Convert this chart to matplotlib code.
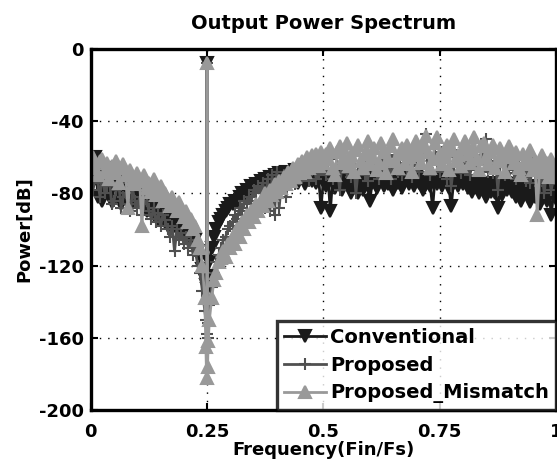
import numpy as np
import matplotlib
matplotlib.use("Agg")
import matplotlib.pyplot as plt

# normalised frequency grid (Fin/Fs), step 0.005, plus extra bins right next to the tone
freq = np.round(np.arange(201) * 0.005, 3)
notch_freq = [0.2475, 0.249, 0.251, 0.2525]

conventional = [
    -76, -64, -60, -82, -70, -84, -66, -79, -72, -85, -74, -68, -80, -86, -76, -71, -82, -88, -78, -74, -84,
    -80, -86, -76, -90, -84, -88, -92, -82, -94, -90, -86, -96, -98, -92, -100, -96, -94, -102, -97, -104,
    -100, -104, -102, -108, -106, -112, -116, -122, -128,
    -8,
    -118, -110, -104, -100, -96, -94, -92, -90, -88, -86,
    -86, -84, -85, -82, -80, -81, -78, -79, -76, -77, -75, -76, -73, -75, -72, -74, -71, -73, -70, -72,
    -69, -72, -70, -68, -73, -69, -71, -67, -74, -70, -68, -75, -71, -69, -73, -70, -74, -72, -88, -73,
    -76, -71, -90, -72, -77, -70, -74, -78, -71, -75, -73, -80, -72, -76, -80, -74, -78, -72, -76, -84,
    -74, -70, -77, -73, -71, -76, -69, -75, -72, -78, -70, -74, -71, -77, -73, -70, -75, -72, -76, -71,
    -74, -72, -78, -75, -73, -76, -88, -72, -75, -71, -76, -73, -70, -77, -87, -74, -72, -76, -73, -75,
    -71, -77, -74, -79, -76, -73, -80, -75, -78, -82, -76, -79, -74, -80, -88, -77, -81, -74, -78, -76,
    -79, -75, -82, -77, -84, -76, -80, -78, -85, -76, -82, -79, -86, -77, -81, -84, -78, -92, -80, -83,
]
proposed = [
    -70, -78, -66, -74, -82, -68, -80, -76, -72, -86, -84, -78, -74, -88, -82, -80, -86, -90, -78, -84, -88,
    -82, -92, -86, -84, -90, -94, -88, -96, -91, -98, -92, -95, -100, -104, -98, -112, -100, -106, -102, -108,
    -104, -110, -106, -114, -112, -120, -124, -134, -145,
    -8,
    -142, -132, -124, -118, -114, -110, -106, -104, -100, -98,
    -96, -92, -94, -88, -90, -84, -86, -82, -84, -78, -80, -76, -79, -74, -88, -72, -90, -70, -92, -68,
    -88, -74, -70, -82, -68, -72, -66, -75, -70, -64, -71, -68, -62, -73, -67, -65, -72, -69, -63, -66,
    -70, -64, -61, -72, -68, -65, -78, -63, -60, -69, -66, -71, -62, -80, -67, -64, -59, -70, -73, -62,
    -66, -61, -69, -72, -58, -64, -67, -60, -72, -65, -59, -68, -63, -70, -57, -66, -62, -71, -60, -65,
    -68, -62, -58, -47, -66, -70, -61, -59, -64, -68, -57, -63, -72, -60, -76, -65, -59, -62, -69, -64,
    -58, -66, -70, -61, -59, -67, -63, -57, -64, -50, -68, -62, -69, -60, -78, -65, -61, -70, -63, -67,
    -62, -69, -72, -64, -66, -61, -73, -68, -74, -63, -70, -65, -76, -69, -80, -66, -71, -78, -72, -74,
]
mismatch = [
    -64, -60, -66, -70, -62, -61, -68, -63, -72, -65, -69, -62, -74, -66, -64, -70, -88, -67, -72, -75, -69,
    -73, -98, -70, -77, -74, -79, -72, -81, -78, -76, -84, -80, -83, -87, -82, -86, -90, -85, -88, -93,
    -90, -96, -94, -100, -98, -106, -110, -120, -138,
    -8,
    -150, -138, -128, -124, -118, -116, -112, -115, -108, -110,
    -104, -108, -100, -104, -96, -100, -92, -96, -90, -93, -86, -90, -84, -87, -80, -84, -78, -81, -75, -79,
    -73, -77, -71, -75, -68, -73, -66, -71, -64, -69, -62, -68, -60, -66, -59, -64, -58, -65, -57, -63,
    -58, -61, -55, -66, -70, -57, -54, -63, -60, -52, -65, -59, -68, -56, -53, -62, -66, -58, -51, -64,
    -60, -55, -67, -63, -52, -57, -69, -61, -54, -50, -62, -66, -58, -55, -64, -53, -60, -68, -56, -51,
    -59, -63, -54, -48, -57, -66, -61, -52, -49, -58, -64, -60, -53, -67, -56, -50, -62, -59, -65, -55,
    -51, -58, -63, -56, -49, -61, -67, -54, -52, -60, -64, -57, -53, -66, -62, -55, -59, -68, -58, -54,
    -60, -63, -57, -66, -70, -58, -61, -64, -56, -67, -62, -92, -65, -59, -68, -63, -71, -61, -66, -70,
]
conv_notch = [-131, -133, -130, -126]
prop_notch = [-150, -158, -160, -152]
mism_notch = [-165, -182, -176, -162]


def with_notch(values, notch):
    f = np.concatenate([freq, notch_freq])
    v = np.concatenate([values, notch])
    order = np.argsort(f, kind="stable")
    return f[order], v[order]


plt.rcParams["font.family"] = ["DejaVu Sans"]
plt.rcParams["font.weight"] = "bold"
plt.rcParams["axes.unicode_minus"] = False

fig = plt.figure(figsize=(5.57, 4.65), dpi=100)
ax = fig.add_axes([0.163, 0.118, 0.835, 0.777])

series = [
    ("Conventional", conventional, conv_notch, "#1a1a1a", "v"),
    ("Proposed", proposed, prop_notch, "#505050", "+"),
    ("Proposed_Mismatch", mismatch, mism_notch, "#999999", "^"),
]
for label, vals, notch, color, marker in series:
    f, v = with_notch(vals, notch)
    ax.plot(f, v, color=color, marker=marker, markersize=8, linewidth=2,
            markerfacecolor=color, markeredgecolor=color, markeredgewidth=1.5,
            label=label)

ax.set_xlim(0, 1)
ax.set_ylim(-200, 0)
ax.set_xticks([0, 0.25, 0.5, 0.75, 1])
ax.set_xticklabels(["0", "0.25", "0.5", "0.75", "1"])
ax.set_yticks([0, -40, -80, -120, -160, -200])
ax.tick_params(direction="in", top=True, right=True, length=5, width=1.5,
               labelsize=13)
ax.tick_params(axis="x", pad=9)
ax.tick_params(axis="y", pad=5)
for s in ax.spines.values():
    s.set_linewidth(2.4)
ax.grid(True, color="black", linestyle=(0, (1, 5)), linewidth=1)

ax.set_title("Output Power Spectrum", fontsize=14, fontweight="bold", pad=14)
ax.set_xlabel("Frequency(Fin/Fs)", fontsize=13, fontweight="bold", labelpad=0)
ax.set_ylabel("Power[dB]", fontsize=13, fontweight="bold", labelpad=4)

leg = ax.legend(loc="lower right", fontsize=14, frameon=True, fancybox=False,
                borderaxespad=0, handlelength=2.2, handletextpad=0.2,
                labelspacing=0.45, borderpad=0.35)
leg.get_frame().set_edgecolor("black")
leg.get_frame().set_linewidth(2.4)
for t in leg.get_texts():
    t.set_fontweight("bold")

fig.savefig("out.png", dpi=100)
